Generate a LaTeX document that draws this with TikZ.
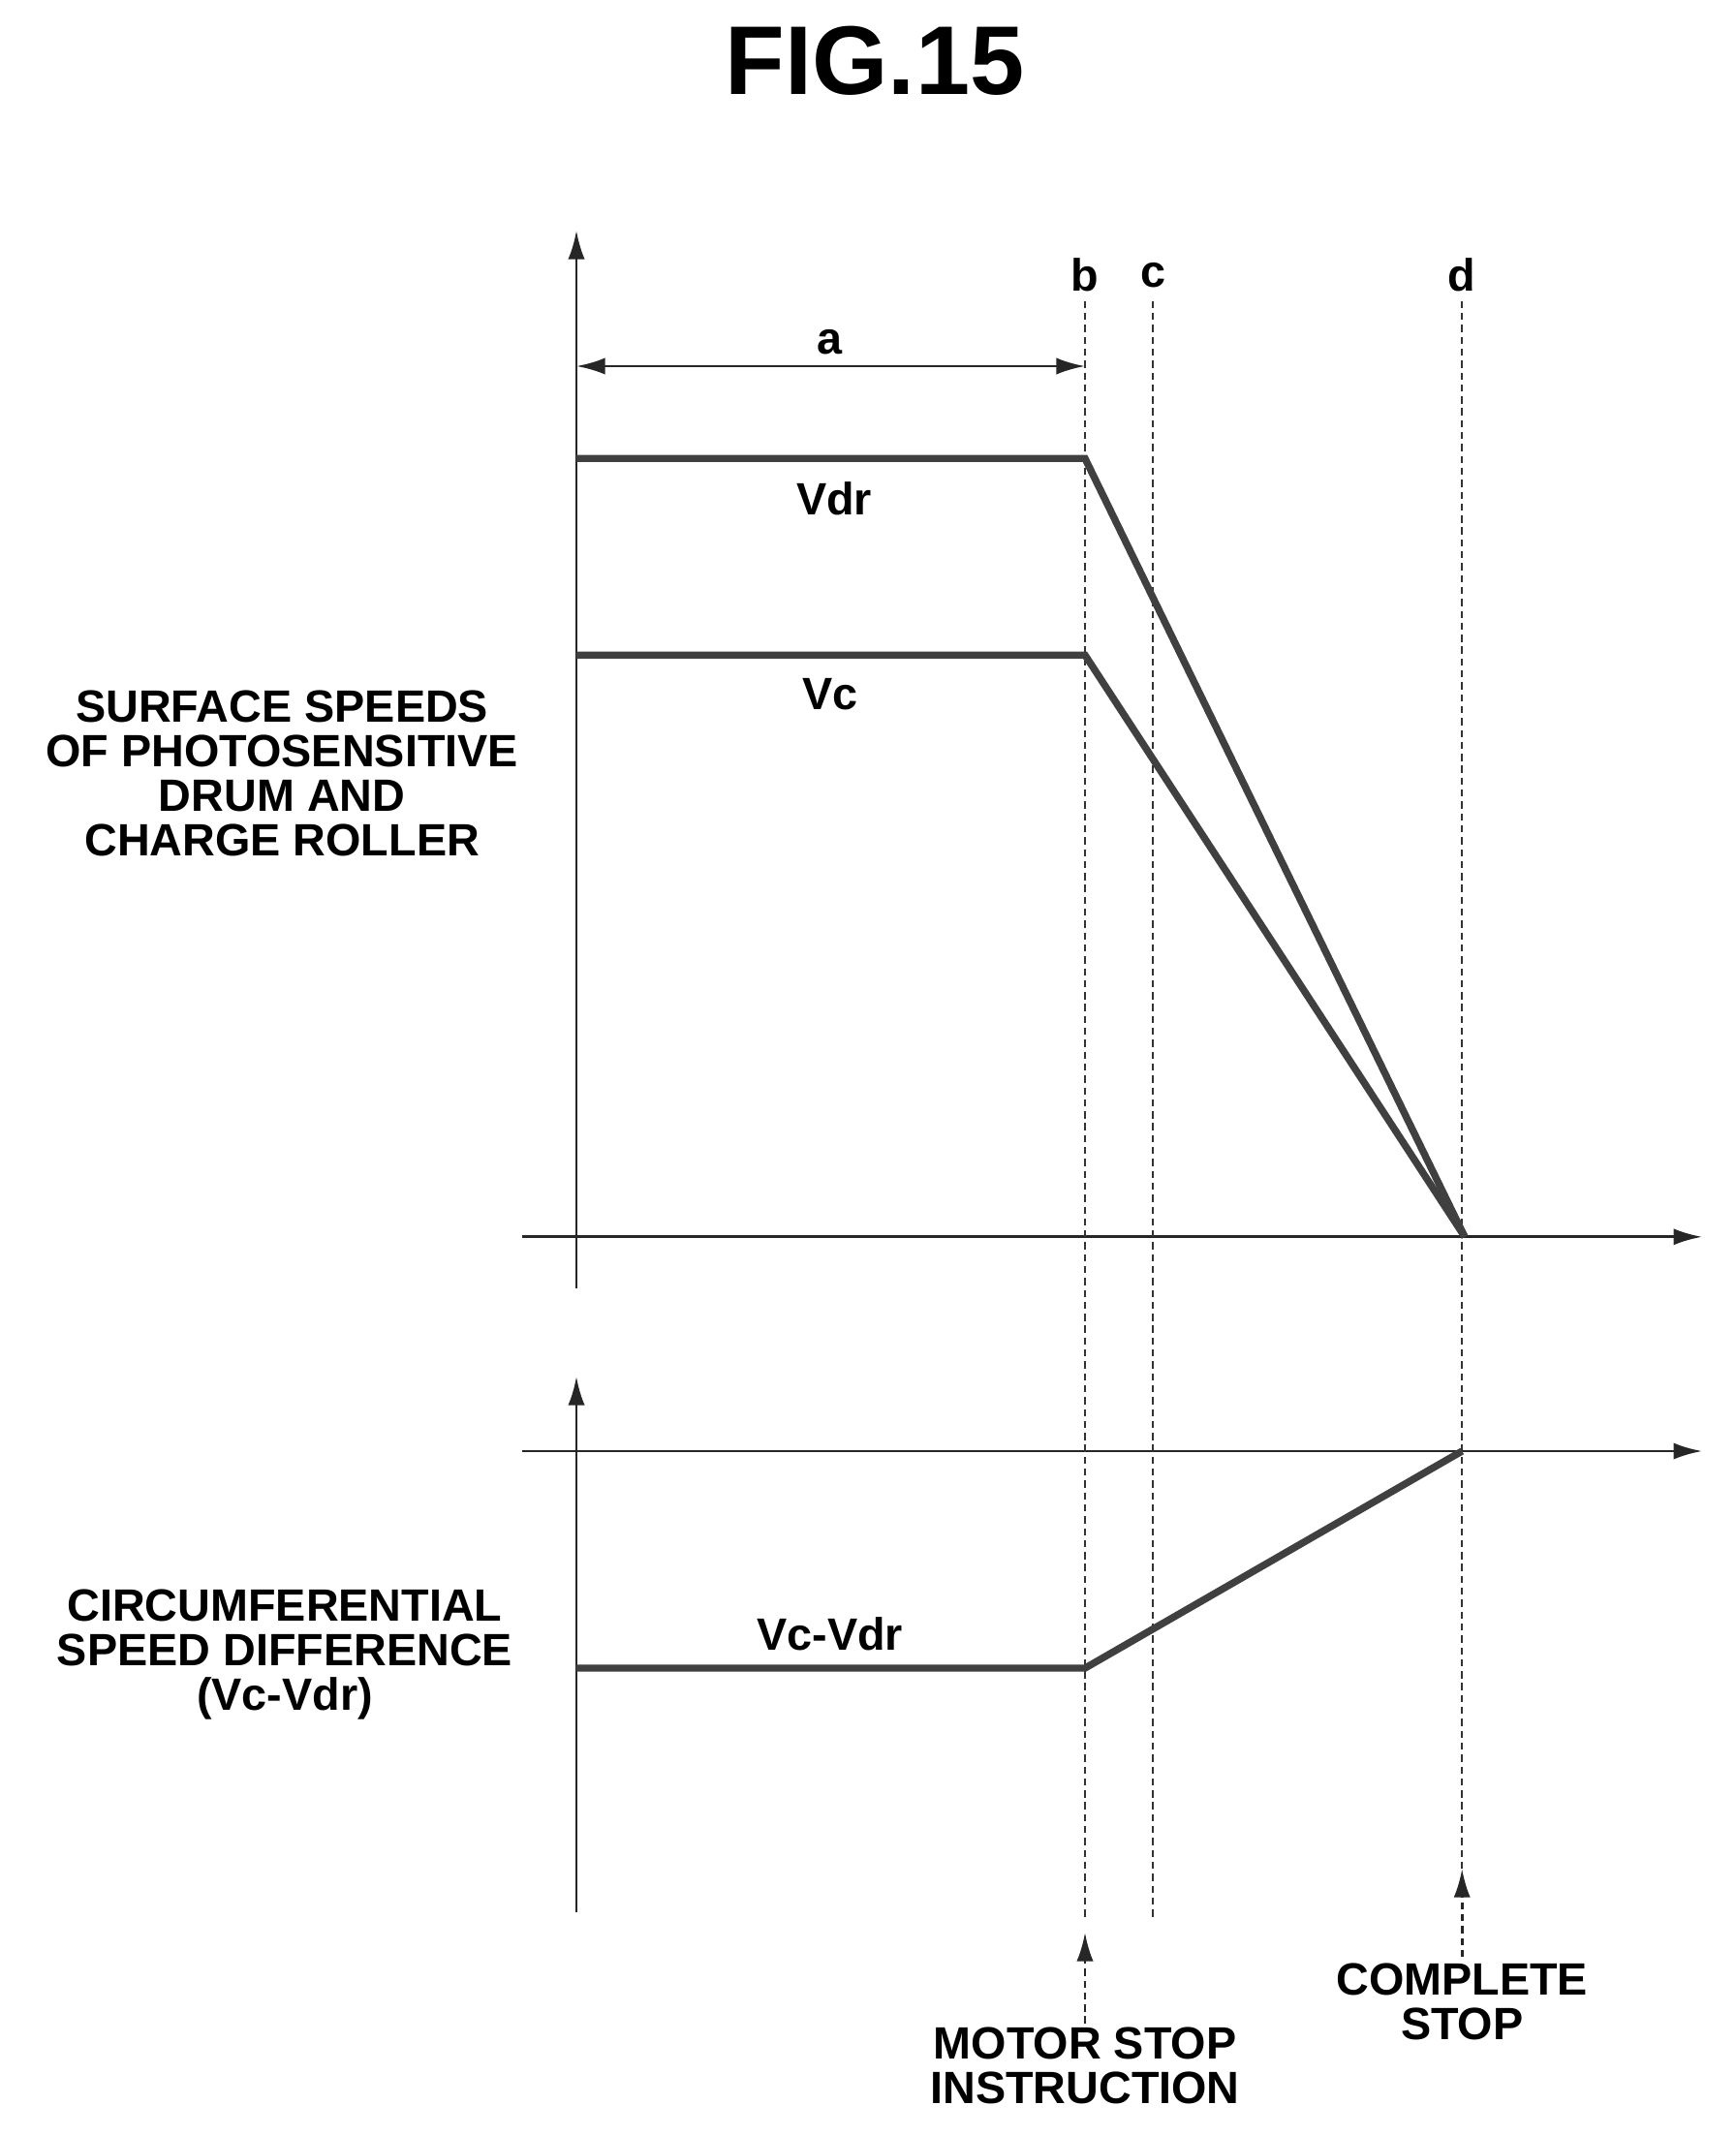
\documentclass[tikz,border=0pt]{standalone}
\usepackage{fontspec}
\setmainfont{Liberation Sans}
\usetikzlibrary{arrows.meta}
\begin{document}
\begin{tikzpicture}[x=0.02cm,y=-0.02cm,
  ax/.style={line width=1.2pt,draw=black!85,-{Latex[length=12pt,width=7pt]}},
  guide/.style={line width=1pt,draw=black!80,dash pattern=on 3pt off 2pt},
  curve/.style={line width=3pt,draw=black!75},
  lbl/.style={font=\fontsize{19}{18.7}\selectfont\bfseries,inner sep=0pt,align=center}]
\useasboundingbox (0,0) rectangle (1280,1575);
\node[font=\fontsize{41}{44}\selectfont\bfseries] (title) at (645,45) {FIG.15};
% upper axes
\coordinate (uy0) at (425,950); \coordinate (uy1) at (425,170);
\coordinate (ux0) at (385,912); \coordinate (ux1) at (1255,912);
\draw[ax] (uy0) -- (uy1);
\draw[ax] (ux0) -- (ux1);
% lower axes
\coordinate (ly0) at (425,1410); \coordinate (ly1) at (425,1015);
\coordinate (lx0) at (385,1070); \coordinate (lx1) at (1255,1070);
\draw[ax] (ly0) -- (ly1);
\draw[ax] (lx0) -- (lx1);
% guides
\node[lbl] (b) at (800,203) {b};
\node[lbl] (c) at (850,203) {c};
\node[lbl] (d) at (1078,203) {d};
\coordinate (bt) at (800,222); \coordinate (ct) at (850,222); \coordinate (dt) at (1078,222);
\coordinate (bb) at (800,1415); \coordinate (cb) at (850,1415); \coordinate (db) at (1078,1380);
\draw[guide] (bt) -- (bb);
\draw[guide] (ct) -- (cb);
\draw[guide] (dt) -- (db);
% a
\coordinate (a0) at (425,270); \coordinate (a1) at (800,270);
\draw[line width=1.2pt,draw=black!85,{Latex[length=12pt,width=7pt]}-{Latex[length=12pt,width=7pt]}] (a0) -- (a1);
\node[lbl] (a) at (612,252) {a};
% curves
\coordinate (vdr0) at (425,338); \coordinate (vdr1) at (800,338);
\coordinate (stop) at (1080,912);
\draw[curve] (vdr0) -- (vdr1) -- (stop);
\node[lbl] (vdr) at (615,368) {Vdr};
\coordinate (vc0) at (425,483); \coordinate (vc1) at (800,483);
\draw[curve] (vc0) -- (vc1) -- (stop);
\node[lbl] (vc) at (612,512) {Vc};
\coordinate (df0) at (425,1230); \coordinate (df1) at (800,1230); \coordinate (df2) at (1078,1070);
\draw[curve] (df0) -- (df1) -- (df2);
\node[lbl] (vcvdr) at (612,1205) {Vc-Vdr};
% axis labels
\node[lbl] (ylu) at (208,570) {SURFACE SPEEDS\\OF PHOTOSENSITIVE\\DRUM AND\\CHARGE ROLLER};
\node[lbl] (yll) at (210,1220) {CIRCUMFERENTIAL\\SPEED DIFFERENCE\\(Vc-Vdr)};
% bottom annotations
\node[lbl] (motor) at (800,1523) {MOTOR STOP\\INSTRUCTION};
\node[lbl] (comp) at (1078,1476) {COMPLETE\\STOP};
\coordinate (ms) at (800,1492); \coordinate (ma) at (800,1425);
\coordinate (cs) at (1078,1443); \coordinate (ca) at (1078,1378);
\draw[ax,dash pattern=on 3pt off 2pt] (ms) -- (ma);
\draw[ax,dash pattern=on 3pt off 2pt] (cs) -- (ca);
\end{tikzpicture}
\end{document}
